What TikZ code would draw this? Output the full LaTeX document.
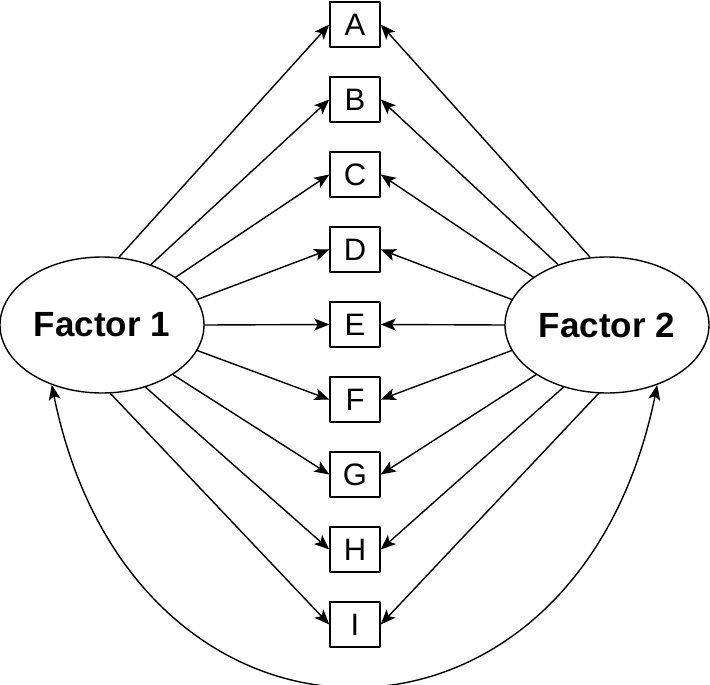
\documentclass[tikz,border=0pt]{standalone}
\usepackage{fontspec}
\setmainfont{Liberation Sans}
\usetikzlibrary{arrows.meta,shapes.geometric}

\begin{document}
\begin{tikzpicture}[
						x=1pt, y=-1pt,
						line width=1.4pt,
						line cap=round,
						line join=round,
						factor/.style={draw, ellipse, minimum width=204pt, minimum height=136pt, inner sep=0pt, font=\fontsize{35}{40}\selectfont\bfseries},
						item/.style={draw, minimum width=50pt, minimum height=45pt, inner sep=0pt, font=\fontsize{31}{34}\selectfont},
						link/.style={-{Stealth[length=15pt, width=12pt, inset=3.5pt]}},
						corr/.style={{Stealth[length=15pt, width=12pt, inset=3.5pt]}-{Stealth[length=15pt, width=12pt, inset=3.5pt]}}
						]
						\useasboundingbox (0,0) rectangle (710,685);
						
						% Factors
						\node[factor] (f1) at (102,325) {Factor 1};
						\node[factor] (f2) at (607,325) {Factor 2};
						
						% Items
						\foreach \name [count=\i from 0] in {A,B,C,D,E,F,G,H,I}
						\node[item] (\name) at (355,{24.5+75*\i}) {\name};
						
						% Loadings
						\foreach \name/\a/\b in {A/76/104, B/51/129, C/33/147, D/15/165, E/0/180, F/-15/195, G/-35/215, H/-55/235, I/-83/263}{
							\draw[link] (f1.\a) -- (\name.west);
							\draw[link] (f2.\b) -- (\name.east);
						}
						
						% Correlation
						\draw[corr] (f1.230) .. controls (133,785) and (576,785) .. (f2.310);
						
					\end{tikzpicture}
\end{document}
